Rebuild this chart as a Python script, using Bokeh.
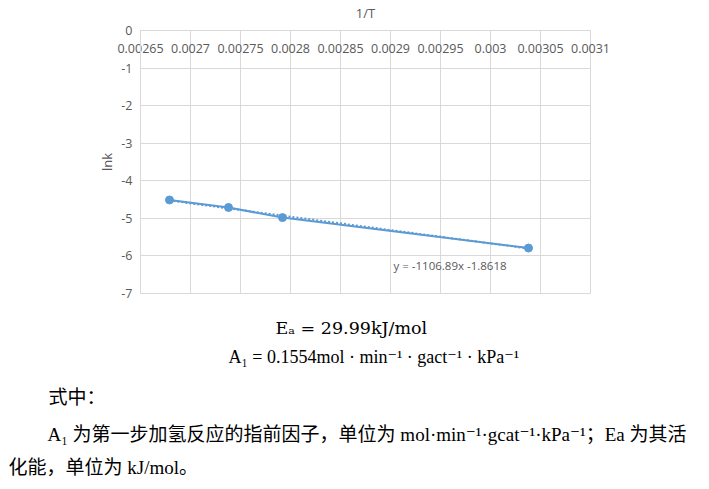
import numpy as np
from bokeh.plotting import figure
from bokeh.models import Range1d, FixedTicker, Label, Title
from bokeh.embed import file_html
from bokeh.resources import INLINE

# ---------------- data ----------------
inv_T = [0.002679, 0.002738, 0.002792, 0.003038]
ln_k = [-4.51, -4.71, -4.98, -5.79]
x_ticks = [0.00265, 0.0027, 0.00275, 0.0028, 0.00285, 0.0029, 0.00295, 0.003, 0.00305, 0.0031]
x_tick_labels = ["0.00265", "0.0027", "0.00275", "0.0028", "0.00285",
                 "0.0029", "0.00295", "0.003", "0.00305", "0.0031"]
y_ticks = [0, -1, -2, -3, -4, -5, -6, -7]
y_tick_labels = ["0", "-1", "-2", "-3", "-4", "-5", "-6", "-7"]
x_title = "1/T"
y_title = "lnk"
trend_text = "y = -1106.89x -1.8618"

# text lines below the chart
line_ea = "Eₐ = 29.99kJ/mol"
line_a1 = "A₁ = 0.1554mol · min⁻¹ · gact⁻¹ · kPa⁻¹"
row1 = "式中："
row2 = "A₁ 为第一步加氢反应的指前因子，单位为 mol·min⁻¹·gcat⁻¹·kPa⁻¹；Ea 为其活"
row3 = "化能，单位为 kJ/mol。"

W, H = 693, 489
GRID = "#d9d9d9"
LBL = "#595959"
BLUE = "#5b9bd5"
TXT_FONT = "'Liberation Serif', 'DejaVu Serif', 'Noto Sans CJK SC'"
EA_FONT = "'DejaVu Serif', 'Liberation Serif'"

FL, FR, FT, FB = 140, 590, 30, 293   # wanted frame edges in page pixels

p = figure(width=W, height=H, output_backend="svg", toolbar_location=None,
           x_axis_location="above",
           x_range=Range1d(x_ticks[0], x_ticks[-1]), y_range=Range1d(y_ticks[-1], y_ticks[0]),
           min_border_left=FL, min_border_right=W - FR,
           min_border_top=FT, min_border_bottom=H - FB)
p.outline_line_color = GRID
p.background_fill_color = "white"
p.border_fill_color = "white"

p.xaxis.ticker = FixedTicker(ticks=x_ticks)
p.yaxis.ticker = FixedTicker(ticks=y_ticks)
p.xgrid.ticker = FixedTicker(ticks=x_ticks)
p.ygrid.ticker = FixedTicker(ticks=y_ticks)
p.xaxis.major_label_overrides = {t: s for t, s in zip(x_ticks, x_tick_labels)}
p.yaxis.major_label_overrides = {t: s for t, s in zip(y_ticks, y_tick_labels)}
for g in (p.xgrid, p.ygrid):
    g.grid_line_color = GRID
    g.grid_line_width = 1

for ax in (p.xaxis, p.yaxis):
    ax.axis_line_color = GRID
    ax.major_tick_line_color = None
    ax.minor_tick_line_color = None
    ax.major_tick_out = 0
    ax.major_tick_in = 0
    ax.major_label_text_color = LBL
    ax.major_label_text_font = "Open Sans"
    ax.major_label_text_font_size = "12.5px"
    ax.axis_label_text_color = LBL
    ax.axis_label_text_font = "Open Sans"
    ax.axis_label_text_font_size = "13px"
    ax.axis_label_text_font_style = "normal"

p.xaxis.axis_label = x_title
p.xaxis.major_label_standoff = -22
p.xaxis.axis_label_standoff = 19
p.yaxis.axis_label = y_title
p.yaxis.major_label_standoff = 8
p.yaxis.axis_label_standoff = 2

# trendline (least squares fit of the data)
coef = np.polyfit(inv_T, ln_k, 1)
tx = [min(inv_T), max(inv_T)]
ty = [coef[0] * v + coef[1] for v in tx]

p.line(inv_T, ln_k, line_color=BLUE, line_width=2)
p.line(tx, ty, line_color=BLUE, line_width=2, line_dash="2 2")
p.scatter(inv_T, ln_k, size=8, fill_color=BLUE, line_color=BLUE)

p.add_layout(Label(x=0.002903, y=-6.26, text=trend_text, text_font="Open Sans",
                   text_font_size="11.5px", text_color=LBL, text_baseline="middle"))

# ---------------- text lines as titles below the frame ----------------
# blank white spacer: vertical gap between the chart and the text block
p.add_layout(Title(text=" ", text_font_size="1px", text_color="white", standoff=17), "below")

lines = [
    (line_ea, 275, EA_FONT, "17.5px", 4),
    (line_a1, 228, TXT_FONT, "18px", 10),
    (row1, 48, TXT_FONT, "19px", 27),
    (row2, 47, TXT_FONT, "19px", 1),
    (row3, 8, TXT_FONT, "19px", 18),
]
for txt, px, font, size, standoff in lines:
    p.add_layout(Title(text=txt, align="left", offset=px - FL,
                       text_font=font, text_font_size=size,
                       text_font_style="normal", text_color="black",
                       standoff=standoff), "below")

open("out.html", "w").write(file_html(p, INLINE))
